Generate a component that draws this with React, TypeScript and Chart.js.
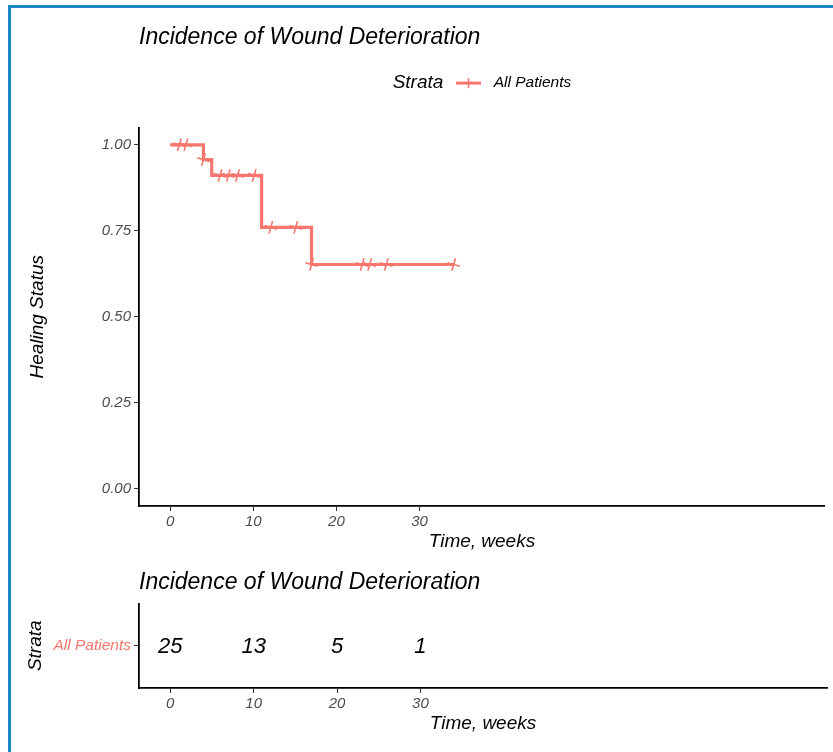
import React, { useEffect, useRef } from 'react';
import { Chart, registerables } from 'chart.js';
Chart.register(...registerables);

const TITLE = 'Incidence of Wound Deterioration';
const STRATA = 'All Patients';
const LEGEND_TITLE = 'Strata';
const X_TITLE = 'Time, weeks';
const Y_TITLE = 'Healing Status';
const RISK_Y_TITLE = 'Strata';
const RED = '#F8766D';

const stepTimes = [0, 4, 5, 11, 17, 34.1];
const stepSurv = [1, 0.957, 0.911, 0.76, 0.652, 0.652];
const censorTimes = [1.1, 1.9, 4.0, 6.0, 7.0, 8.1, 10.1, 12.1, 15.1, 17.0, 23.1, 24.0, 26.0, 34.1];
const censorSurv = [1, 1, 0.957, 0.911, 0.911, 0.911, 0.911, 0.76, 0.76, 0.652, 0.652, 0.652, 0.652, 0.652];
const xTicks = [0, 10, 20, 30];
const yTicks = [0, 0.25, 0.5, 0.75, 1];
const riskTimes = [0, 10, 20, 30];
const riskCounts = [25, 13, 5, 1];

const FONT = "'Liberation Sans', Arial, Helvetica, sans-serif";
Chart.defaults.font.family = FONT;

function xAxis(height: number, titlePadBottom: number): any {
  return {
    type: 'linear',
    min: -3.75,
    max: 78.75,
    afterBuildTicks: (s: any) => {
      s.ticks = xTicks.map((v) => ({ value: v }));
    },
    afterFit: (s: any) => {
      s.height = height;
    },
    ticks: {
      color: '#4D4D4D',
      font: { size: 15, style: 'italic' },
      padding: 2,
      maxRotation: 0,
      autoSkip: false,
    },
    grid: { drawOnChartArea: false, drawTicks: true, tickLength: 5, color: '#333', lineWidth: 1 },
    border: { display: true, color: '#000', width: 1.8 },
    title: {
      display: true,
      text: X_TITLE,
      color: '#000',
      font: { size: 19, style: 'italic' },
      padding: { top: 0, bottom: titlePadBottom },
    },
  };
}

const legendPlugin = {
  id: 'kmLegend',
  afterDraw(chart: any) {
    const { ctx, chartArea } = chart;
    const cx = (chartArea.left + chartArea.right) / 2;
    const y = chartArea.top - 44.5;
    const titleFont = `italic 19px ${FONT}`;
    const labelFont = `italic 15.5px ${FONT}`;
    ctx.save();
    ctx.font = titleFont;
    const w1 = ctx.measureText(LEGEND_TITLE).width;
    ctx.font = labelFont;
    const w2 = ctx.measureText(STRATA).width;
    const keyW = 25;
    const gap = 12.7;
    const total = w1 + gap + keyW + gap + w2;
    let x = cx - total / 2;
    ctx.textBaseline = 'middle';
    ctx.textAlign = 'left';
    ctx.fillStyle = '#000';
    ctx.font = titleFont;
    ctx.fillText(LEGEND_TITLE, x, y);
    x += w1 + gap;
    ctx.strokeStyle = RED;
    ctx.lineWidth = 3;
    ctx.beginPath();
    ctx.moveTo(x, y);
    ctx.lineTo(x + keyW, y);
    ctx.stroke();
    ctx.lineWidth = 1.5;
    ctx.beginPath();
    ctx.moveTo(x + keyW / 2, y - 5);
    ctx.lineTo(x + keyW / 2, y + 5);
    ctx.stroke();
    x += keyW + gap;
    ctx.font = labelFont;
    ctx.fillText(STRATA, x, y);
    ctx.restore();
  },
};

const riskPlugin = {
  id: 'riskNumbers',
  afterDatasetsDraw(chart: any) {
    const { ctx } = chart;
    const meta = chart.getDatasetMeta(0);
    ctx.save();
    ctx.font = `italic 22px ${FONT}`;
    ctx.textAlign = 'center';
    ctx.textBaseline = 'middle';
    ctx.fillStyle = '#000';
    meta.data.forEach((el: any, i: number) => {
      ctx.fillText(String(riskCounts[i]), el.x, el.y + 1);
    });
    ctx.restore();
  },
};

export default function App() {
  const ref1 = useRef<HTMLCanvasElement>(null);
  const ref2 = useRef<HTMLCanvasElement>(null);

  useEffect(() => {
    const c1 = new Chart(ref1.current as HTMLCanvasElement, {
      type: 'line',
      data: {
        datasets: [
          {
            data: stepTimes.map((t, i) => ({ x: t, y: stepSurv[i] })),
            borderColor: RED,
            borderWidth: 3.2,
            pointRadius: 0,
            stepped: 'before',
            fill: false,
          } as any,
          {
            data: censorTimes.map((t, i) => ({ x: t, y: censorSurv[i] })),
            showLine: false,
            pointStyle: 'cross',
            pointRotation: 16,
            pointRadius: 6.5,
            pointBorderWidth: 1.6,
            pointBorderColor: RED,
            borderColor: RED,
          } as any,
        ],
      },
      options: {
        animation: false,
        responsive: false,
        events: [],
        layout: { padding: { left: 0, right: 6, top: 0, bottom: 0 } },
        plugins: {
          legend: { display: false },
          tooltip: { enabled: false },
          title: {
            display: true,
            text: TITLE,
            align: 'start',
            fullSize: false,
            color: '#000',
            font: { size: 23, style: 'italic', weight: 'normal' },
            padding: { top: 23.5, bottom: 76.5 },
          },
        },
        scales: {
          x: xAxis(54, 7),
          y: {
            type: 'linear',
            min: -0.05,
            max: 1.05,
            afterBuildTicks: (s: any) => {
              s.ticks = yTicks.map((v) => ({ value: v }));
            },
            afterFit: (s: any) => {
              s.width = 139;
            },
            ticks: {
              color: '#4D4D4D',
              font: { size: 15, style: 'italic' },
              padding: 3,
              callback: (v: any) => Number(v).toFixed(2),
            },
            grid: { drawOnChartArea: false, drawTicks: true, tickLength: 5, color: '#333', lineWidth: 1 },
            border: { display: true, color: '#000', width: 1.8 },
            title: {
              display: true,
              text: Y_TITLE,
              color: '#000',
              font: { size: 19, style: 'italic' },
              padding: { top: 26, bottom: 0 },
            },
          } as any,
        },
      } as any,
      plugins: [legendPlugin],
    });

    const c2 = new Chart(ref2.current as HTMLCanvasElement, {
      type: 'line',
      data: {
        datasets: [
          {
            data: riskTimes.map((t) => ({ x: t, y: STRATA })),
            showLine: false,
            pointRadius: 0,
          } as any,
        ],
      },
      options: {
        animation: false,
        responsive: false,
        events: [],
        layout: { padding: { left: 0, right: 6, top: 0, bottom: 0 } },
        plugins: {
          legend: { display: false },
          tooltip: { enabled: false },
          title: {
            display: true,
            text: TITLE,
            align: 'start',
            fullSize: false,
            color: '#000',
            font: { size: 23, style: 'italic', weight: 'normal' },
            padding: { top: 8.7, bottom: 7.2 },
          },
        },
        scales: {
          x: xAxis(64, 16.6),
          y: {
            type: 'category',
            labels: [STRATA],
            offset: true,
            afterFit: (s: any) => {
              s.width = 139;
            },
            ticks: {
              color: RED,
              font: { size: 15.5, style: 'italic' },
              padding: 3,
            },
            grid: { offset: false, drawOnChartArea: false, drawTicks: true, tickLength: 5, color: '#333', lineWidth: 1 },
            border: { display: true, color: '#000', width: 1.8 },
            title: {
              display: true,
              text: RISK_Y_TITLE,
              color: '#000',
              font: { size: 19, style: 'italic' },
              padding: { top: 24, bottom: 0 },
            },
          } as any,
        },
      } as any,
      plugins: [riskPlugin],
    });

    return () => {
      c1.destroy();
      c2.destroy();
    };
  }, []);

  return (
    <div
      style={{
        position: 'absolute',
        left: 0,
        top: 0,
        width: 833,
        height: 752,
        overflow: 'hidden',
        background: '#fff',
      }}
    >
      <div
        style={{
          position: 'absolute',
          left: 8,
          top: 5,
          width: 825,
          height: 747,
          borderLeft: '3px solid #1E88C2',
          borderTop: '3px solid #1E88C2',
          boxSizing: 'border-box',
        }}
      />
      <canvas
        ref={ref1}
        width={833}
        height={560}
        style={{ position: 'absolute', left: 0, top: 0, width: 833, height: 560 }}
      />
      <canvas
        ref={ref2}
        width={833}
        height={192}
        style={{ position: 'absolute', left: 0, top: 560, width: 833, height: 192 }}
      />
    </div>
  );
}
